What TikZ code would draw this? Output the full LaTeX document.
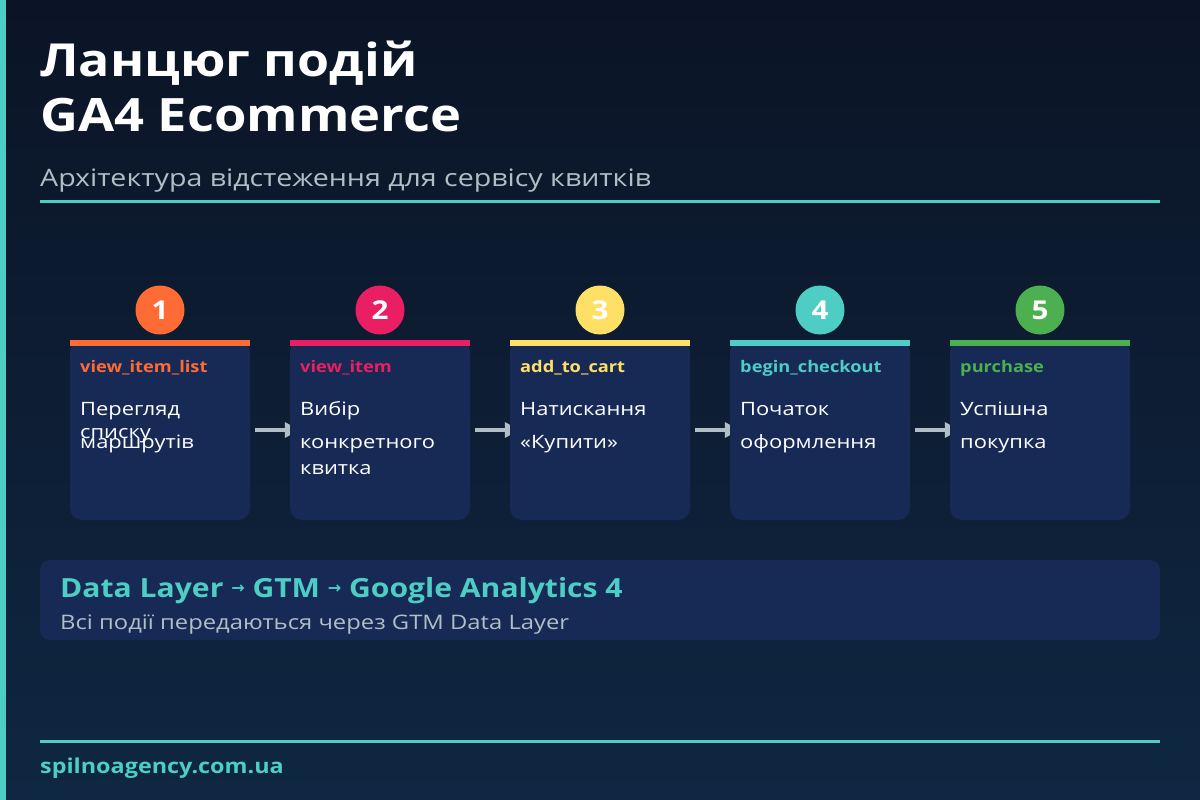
\documentclass[tikz,border=0pt]{standalone}
\usepackage{fontspec}
\setmainfont{Open Sans}[FakeStretch=1.19, BoldFeatures={FakeStretch=1.14}]
\newfontfamily\arrowfont{DejaVu Sans}
\usetikzlibrary{arrows.meta, backgrounds}

\definecolor{bgtop}{HTML}{0B1426}
\definecolor{bgbottom}{HTML}{0F2742}
\definecolor{accentteal}{HTML}{4ECDC4}
\definecolor{cardblue}{HTML}{172A56}
\definecolor{softgray}{HTML}{B0BEC5}
\definecolor{stepone}{HTML}{FF6B35}
\definecolor{steptwo}{HTML}{E91E63}
\definecolor{stepthree}{HTML}{FFE066}
\definecolor{stepfour}{HTML}{4ECDC4}
\definecolor{stepfive}{HTML}{4CAF50}

\newcommand{\pipearrow}{\raisebox{3.5pt}{\arrowfont\fontsize{16}{16}\selectfont →}}

\begin{document}
\begin{tikzpicture}[x=1pt, y=-1pt,
            card/.style={fill=cardblue, rounded corners=12pt, minimum width=180pt, minimum height=180pt, inner sep=0pt},
            badge/.style={circle, minimum size=49pt, inner sep=0pt, text=white, font=\bfseries\fontsize{26}{26}\selectfont},
            event/.style={anchor=base west, inner sep=0pt, font=\bfseries\fontsize{16}{16}\selectfont},
            desc/.style={anchor=base west, inner sep=0pt, text=white, font=\fontsize{18.4}{18.4}\selectfont},
            flow/.style={draw=softgray, line width=3.3pt, shorten <=5pt, -{Triangle[length=15pt, width=15pt]}},
            rule/.style={draw=accentteal, line width=3pt}
        ]
            \useasboundingbox (0,0) rectangle (1200,800);
            \fill[accentteal] (0,0) rectangle (6,800);

            \node[anchor=base west, inner sep=0pt, text=white, font=\bfseries\fontsize{45.5}{45.5}\selectfont] (title) at (40,77) {Ланцюг подій};
            \node[anchor=base west, inner sep=0pt, text=white, font=\bfseries\fontsize{46}{46}\selectfont] (titletwo) at (40,131) {GA4 Ecommerce};
            \node[anchor=base west, inner sep=0pt, text=softgray, font=\fontsize{24}{24}\selectfont] (subtitle) at (40,186) {Архітектура відстеження для сервісу квитків};
            \draw[rule] (40,201) -- (1160,201);

            \node[card] (card1) at (160,430) {};
            \node[card] (card2) at (380,430) {};
            \node[card] (card3) at (600,430) {};
            \node[card] (card4) at (820,430) {};
            \node[card] (card5) at (1040,430) {};

            \fill[stepone] (card1.north west) rectangle ([yshift=-6pt]card1.north east);
            \fill[steptwo] (card2.north west) rectangle ([yshift=-6pt]card2.north east);
            \fill[stepthree] (card3.north west) rectangle ([yshift=-6pt]card3.north east);
            \fill[stepfour] (card4.north west) rectangle ([yshift=-6pt]card4.north east);
            \fill[stepfive] (card5.north west) rectangle ([yshift=-6pt]card5.north east);

            \node[badge, fill=stepone] (num1) at (160,310) {1};
            \node[badge, fill=steptwo] (num2) at (380,310) {2};
            \node[badge, fill=stepthree] (num3) at (600,310) {3};
            \node[badge, fill=stepfour] (num4) at (820,310) {4};
            \node[badge, fill=stepfive] (num5) at (1040,310) {5};

            \node[event, text=stepone] (ev1) at (80,372) {view\_item\_list};
            \node[event, text=steptwo] (ev2) at (300,372) {view\_item};
            \node[event, text=stepthree] (ev3) at (520,372) {add\_to\_cart};
            \node[event, text=stepfour] (ev4) at (740,372) {begin\_checkout};
            \node[event, text=stepfive] (ev5) at (960,372) {purchase};

            \node[desc] (d1a) at (80,415) {Перегляд};
            \node[desc] (d1b) at (80,438) {списку};
            \node[desc] (d1c) at (80,448) {маршрутів};
            \node[desc] (d2a) at (300,415) {Вибір};
            \node[desc] (d2b) at (300,448) {конкретного};
            \node[desc] (d2c) at (300,474) {квитка};
            \node[desc] (d3a) at (520,415) {Натискання};
            \node[desc] (d3b) at (520,448) {«Купити»};
            \node[desc] (d4a) at (740,415) {Початок};
            \node[desc] (d4b) at (740,448) {оформлення};
            \node[desc] (d5a) at (960,415) {Успішна};
            \node[desc] (d5b) at (960,448) {покупка};

            \node[fill=cardblue, rounded corners=10pt, minimum width=1120pt, minimum height=80pt, inner sep=0pt] (pipeline) at (600,600) {};
            \node[anchor=base west, inner sep=0pt, text=accentteal, font=\bfseries\fontsize{26.4}{26.4}\selectfont] (pipetitle) at (60,597) {Data Layer \pipearrow{} GTM \pipearrow{} Google Analytics 4};
            \node[anchor=base west, inner sep=0pt, text=softgray, font=\fontsize{20}{20}\selectfont] (pipenote) at (60,629) {Всі події передаються через GTM Data Layer};

            \draw[rule] (40,741) -- (1160,741);
            \node[anchor=base west, inner sep=0pt, text=accentteal, font=\bfseries\fontsize{20.5}{20.5}\selectfont] (site) at (40,773) {spilnoagency.com.ua};

            \begin{pgfonlayer}{background}
                \shade[top color=bgtop, bottom color=bgbottom] (0,0) rectangle (1200,800);
                \draw[flow] (card1.east) -- ([xshift=10pt]card2.west);
                \draw[flow] (card2.east) -- ([xshift=10pt]card3.west);
                \draw[flow] (card3.east) -- ([xshift=10pt]card4.west);
                \draw[flow] (card4.east) -- ([xshift=10pt]card5.west);
            \end{pgfonlayer}
        \end{tikzpicture}
\end{document}
